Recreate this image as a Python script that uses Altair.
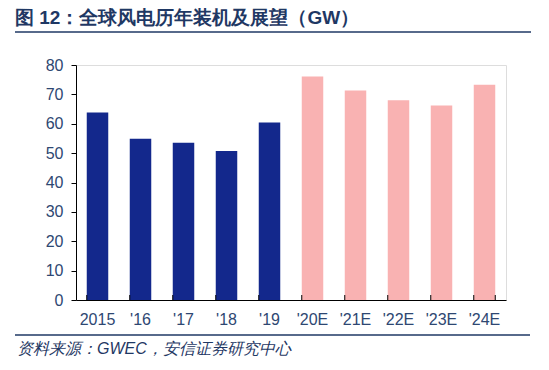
import altair as alt
import pandas as pd

categories = ["2015", "'16", "'17", "'18", "'19", "'20E", "'21E", "'22E", "'23E", "'24E"]
values = [63.8, 54.9, 53.5, 50.7, 60.4, 76.1, 71.3, 68.0, 66.2, 73.3]
kinds = ["历史", "历史", "历史", "历史", "历史", "预测", "预测", "预测", "预测", "预测"]
y_ticks = [0, 10, 20, 30, 40, 50, 60, 70, 80]

title_text = "图 12：全球风电历年装机及展望（GW）"
source_text = "资料来源：GWEC，安信证券研究中心"

df = pd.DataFrame({"cat": categories, "val": values, "kind": kinds})

W, H = 430, 235
navy = "#1F3864"
label_color = "#2E4772"
font = "Liberation Sans"

xscale = alt.Scale(paddingInner=0.5, paddingOuter=0.25)

bars = alt.Chart(df).mark_bar().encode(
    x=alt.X("cat:N", sort=categories, scale=xscale,
            axis=alt.Axis(title=None, labelAngle=0, ticks=False, domainColor="#000000",
                          labelColor=label_color, labelFontSize=16, labelFont=font,
                          labelPadding=11, domainWidth=1)),
    y=alt.Y("val:Q", scale=alt.Scale(domain=[0, 80], nice=False),
            axis=alt.Axis(title=None, values=y_ticks, grid=False, domainColor="#000000",
                          tickColor="#000000", tickSize=5, labelPadding=8,
                          labelColor=label_color, labelFontSize=16, labelFont=font)),
    color=alt.Color("kind:N", scale=alt.Scale(domain=["历史", "预测"], range=["#13288C", "#F9B2B2"]),
                    legend=None),
)

ticks_left = alt.Chart(df).mark_rule(color="#000000", strokeWidth=1).encode(
    x=alt.X("cat:N", sort=categories, scale=xscale, bandPosition=0),
    y=alt.value(H),
    y2=alt.value(H - 5),
)
ticks_last = alt.Chart(df.tail(1)).mark_rule(color="#000000", strokeWidth=1).encode(
    x=alt.X("cat:N", sort=categories, scale=xscale, bandPosition=1),
    y=alt.value(H),
    y2=alt.value(H - 5),
)

title = alt.Chart(pd.DataFrame({"t": [title_text]})).mark_text(
    align="left", baseline="middle", fontSize=19, fontWeight="bold", color=navy, font=font
).encode(x=alt.value(-61), y=alt.value(-47), text="t:N")

top_line = alt.Chart(pd.DataFrame({"a": [0]})).mark_rule(color=navy, strokeWidth=1.5).encode(
    x=alt.value(-61), x2=alt.value(455), y=alt.value(-33)
)
bottom_line = alt.Chart(pd.DataFrame({"a": [0]})).mark_rule(color=navy, strokeWidth=1.5).encode(
    x=alt.value(-61), x2=alt.value(454), y=alt.value(270)
)
source = alt.Chart(pd.DataFrame({"t": [source_text]})).mark_text(
    align="left", baseline="middle", fontSize=16, fontStyle="italic", color=navy, font=font
).encode(x=alt.value(-59), y=alt.value(284), text="t:N")

chart = alt.layer(bars, ticks_left, ticks_last, title, top_line, bottom_line, source).properties(
    width=W, height=H,
    autosize=alt.AutoSizeParams(type="none"),
    padding={"left": 68, "top": 57, "right": 35, "bottom": 62},
).configure_view(stroke=None).configure(background="#FFFFFF")

chart.save("out.html", embed_options={"renderer": "svg", "actions": False})
